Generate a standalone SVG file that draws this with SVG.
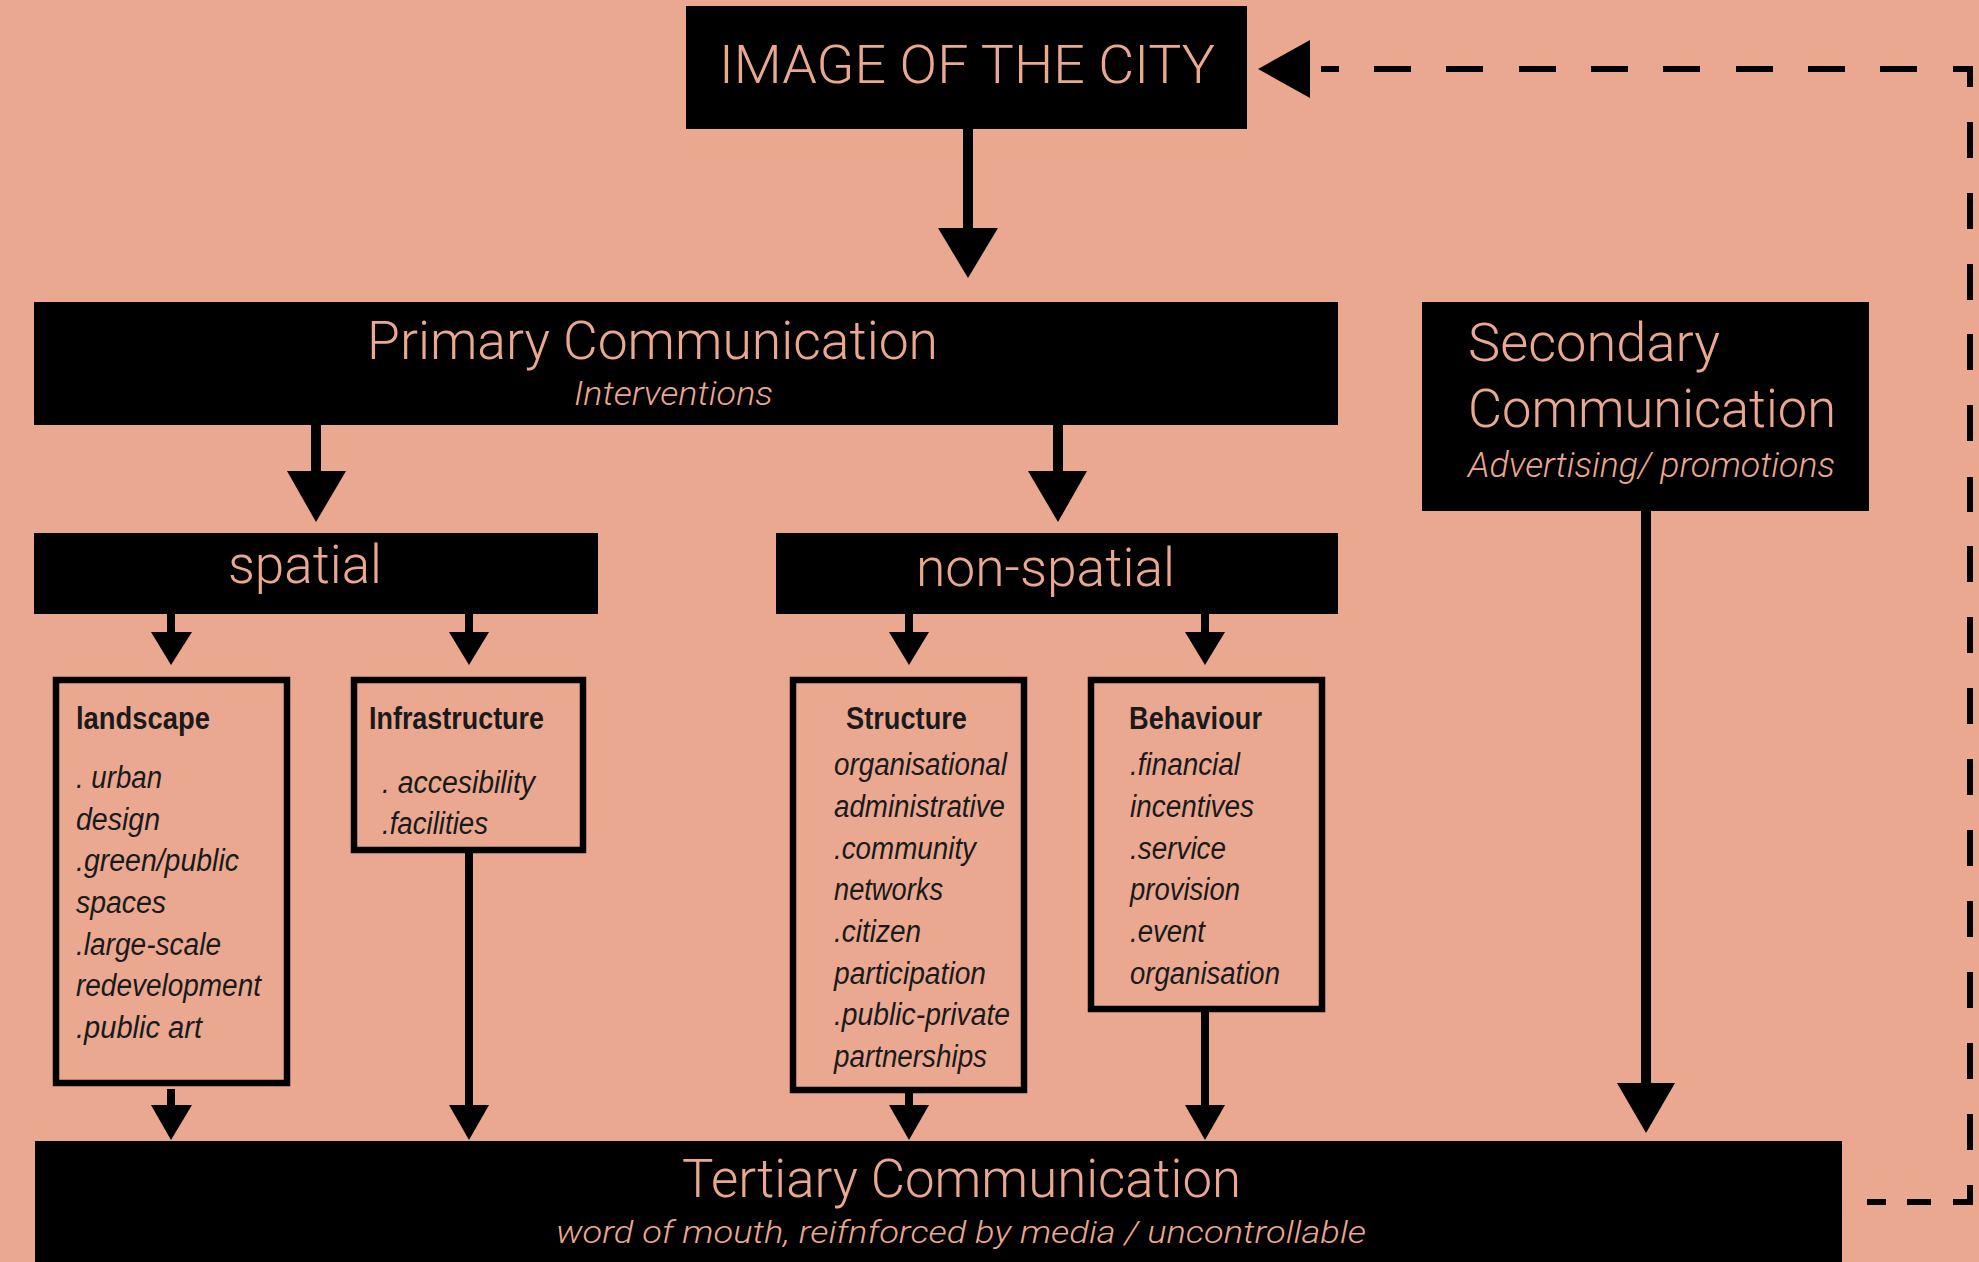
<svg xmlns="http://www.w3.org/2000/svg" width="1979" height="1262" viewBox="0 0 1979 1262">
  <style>
    .bg { fill: #EBA891; }
    .block { fill: #000; }
    .frame { fill: none; stroke: #000; stroke-width: 6.5; }
    .title { font-family: Roboto, "Liberation Sans", sans-serif; font-weight: 300; fill: #EBA891; font-size: 53px; }
    .sub { font-family: Roboto, "Liberation Sans", sans-serif; font-weight: 300; font-style: italic; fill: #EBA891; }
    .head { font-family: "Liberation Sans", Arial, sans-serif; font-weight: bold; fill: #1a1a1a; font-size: 31px; }
    .item { font-family: "Liberation Sans", Arial, sans-serif; font-style: italic; fill: #1a1a1a; font-size: 31px; }
    .wire { stroke: #000; fill: none; }
    .tip { fill: #000; }
    .dash { stroke: #000; stroke-width: 6; fill: none; stroke-linecap: butt; }
  </style>

  <rect class="bg" x="0" y="0" width="1979" height="1262"/>

  <!-- connectors -->
  <g id="connectors">
    <!-- image -> primary -->
    <line class="wire" x1="968" y1="129" x2="968" y2="230" stroke-width="10"/>
    <polygon class="tip" points="938,228 998,228 968,278"/>
    <!-- primary -> spatial / non-spatial -->
    <line class="wire" x1="316" y1="425" x2="316" y2="473" stroke-width="10"/>
    <polygon class="tip" points="287,471 346,471 316,522"/>
    <line class="wire" x1="1058" y1="425" x2="1058" y2="473" stroke-width="10"/>
    <polygon class="tip" points="1028,471 1087,471 1058,522"/>
    <!-- spatial -> landscape / infrastructure -->
    <line class="wire" x1="171" y1="614" x2="171" y2="634" stroke-width="8"/>
    <polygon class="tip" points="151,632 192,632 171,665"/>
    <line class="wire" x1="469" y1="614" x2="469" y2="634" stroke-width="8"/>
    <polygon class="tip" points="449,632 489,632 469,665"/>
    <!-- non-spatial -> structure / behaviour -->
    <line class="wire" x1="909" y1="614" x2="909" y2="634" stroke-width="8"/>
    <polygon class="tip" points="889,632 929,632 909,665"/>
    <line class="wire" x1="1205" y1="614" x2="1205" y2="634" stroke-width="8"/>
    <polygon class="tip" points="1185,632 1225,632 1205,665"/>
    <!-- four boxes -> tertiary -->
    <line class="wire" x1="171" y1="1089" x2="171" y2="1107" stroke-width="8"/>
    <polygon class="tip" points="151,1105 192,1105 171,1140"/>
    <line class="wire" x1="469" y1="853" x2="469" y2="1107" stroke-width="8"/>
    <polygon class="tip" points="449,1105 489,1105 469,1140"/>
    <line class="wire" x1="909" y1="1093" x2="909" y2="1107" stroke-width="8"/>
    <polygon class="tip" points="889,1105 929,1105 909,1140"/>
    <line class="wire" x1="1205" y1="1012" x2="1205" y2="1107" stroke-width="8"/>
    <polygon class="tip" points="1185,1105 1225,1105 1205,1140"/>
    <!-- secondary -> tertiary -->
    <line class="wire" x1="1646" y1="511" x2="1646" y2="1085" stroke-width="10"/>
    <polygon class="tip" points="1617,1083 1675,1083 1646,1133"/>
    <!-- feedback loop: tertiary back to the image -->
    <path class="dash" d="M1867,1202 H1886 M1907,1202 H1931 M1953,1202 H1973 M1970,1205 V1185
      M1970,1150 V1114 M1970,1079 V1043 M1970,1008 V972 M1970,937 V901 M1970,866 V830 M1970,795 V759
      M1970,724 V688 M1970,653 V617 M1970,582 V546 M1970,512 V477 M1970,441 V405 M1970,370 V334
      M1970,300 V264 M1970,229 V193 M1970,158 V122 M1970,87 V66 M1973,69 H1953
      M1917,69 H1880 M1845,69 H1808 M1773,69 H1736 M1700,69 H1663 M1628,69 H1591
      M1556,69 H1519 M1483,69 H1446 M1411,69 H1374 M1339,69 H1321"/>
    <polygon class="tip" points="1258,69 1310,40 1310,98"/>
  </g>

  <!-- nodes -->
  <g id="image-of-the-city">
    <rect class="block" x="686" y="6" width="561" height="123"/>
    <text class="title" x="719" y="83" textLength="496" lengthAdjust="spacingAndGlyphs">IMAGE OF THE CITY</text>
  </g>

  <g id="primary">
    <rect class="block" x="34" y="302" width="1304" height="123"/>
    <text class="title" x="367" y="359" textLength="571" lengthAdjust="spacingAndGlyphs">Primary Communication</text>
    <text class="sub" x="574" y="405" font-size="33" textLength="199" lengthAdjust="spacingAndGlyphs">Interventions</text>
  </g>

  <g id="secondary">
    <rect class="block" x="1422" y="302" width="447" height="209"/>
    <text class="title" x="1468" y="361" textLength="252" lengthAdjust="spacingAndGlyphs">Secondary</text>
    <text class="title" x="1468" y="427" textLength="368" lengthAdjust="spacingAndGlyphs">Communication</text>
    <text class="sub" x="1468" y="477" font-size="35" textLength="367" lengthAdjust="spacingAndGlyphs">Advertising/ promotions</text>
  </g>

  <g id="spatial">
    <rect class="block" x="34" y="533" width="564" height="81"/>
    <text class="title" x="228" y="583" textLength="154" lengthAdjust="spacingAndGlyphs">spatial</text>
  </g>

  <g id="non-spatial">
    <rect class="block" x="776" y="533" width="562" height="81"/>
    <text class="title" x="916" y="586" textLength="259" lengthAdjust="spacingAndGlyphs">non-spatial</text>
  </g>

  <g id="landscape">
    <rect class="frame" x="56" y="680" width="231" height="403"/>
    <text class="head" x="76" y="729" textLength="134" lengthAdjust="spacingAndGlyphs">landscape</text>
    <text class="item" x="76" y="788" textLength="86" lengthAdjust="spacingAndGlyphs">. urban</text>
    <text class="item" x="76" y="830" textLength="84" lengthAdjust="spacingAndGlyphs">design</text>
    <text class="item" x="76" y="871" textLength="163" lengthAdjust="spacingAndGlyphs">.green/public</text>
    <text class="item" x="76" y="913" textLength="90" lengthAdjust="spacingAndGlyphs">spaces</text>
    <text class="item" x="76" y="955" textLength="145" lengthAdjust="spacingAndGlyphs">.large-scale</text>
    <text class="item" x="76" y="996" textLength="185" lengthAdjust="spacingAndGlyphs">redevelopment</text>
    <text class="item" x="76" y="1038" textLength="126" lengthAdjust="spacingAndGlyphs">.public art</text>
  </g>

  <g id="infrastructure">
    <rect class="frame" x="354" y="680" width="229" height="170"/>
    <text class="head" x="369" y="729" textLength="175" lengthAdjust="spacingAndGlyphs">Infrastructure</text>
    <text class="item" x="382" y="793" textLength="153" lengthAdjust="spacingAndGlyphs">. accesibility</text>
    <text class="item" x="382" y="834" textLength="106" lengthAdjust="spacingAndGlyphs">.facilities</text>
  </g>

  <g id="structure">
    <rect class="frame" x="793" y="680" width="231" height="410"/>
    <text class="head" x="846" y="729" textLength="121" lengthAdjust="spacingAndGlyphs">Structure</text>
    <text class="item" x="834" y="775" textLength="173" lengthAdjust="spacingAndGlyphs">organisational</text>
    <text class="item" x="834" y="817" textLength="171" lengthAdjust="spacingAndGlyphs">administrative</text>
    <text class="item" x="834" y="859" textLength="142" lengthAdjust="spacingAndGlyphs">.community</text>
    <text class="item" x="834" y="900" textLength="109" lengthAdjust="spacingAndGlyphs">networks</text>
    <text class="item" x="834" y="942" textLength="87" lengthAdjust="spacingAndGlyphs">.citizen</text>
    <text class="item" x="834" y="984" textLength="152" lengthAdjust="spacingAndGlyphs">participation</text>
    <text class="item" x="834" y="1025" textLength="176" lengthAdjust="spacingAndGlyphs">.public-private</text>
    <text class="item" x="834" y="1067" textLength="153" lengthAdjust="spacingAndGlyphs">partnerships</text>
  </g>

  <g id="behaviour">
    <rect class="frame" x="1091" y="680" width="231" height="329"/>
    <text class="head" x="1129" y="729" textLength="133" lengthAdjust="spacingAndGlyphs">Behaviour</text>
    <text class="item" x="1130" y="775" textLength="110" lengthAdjust="spacingAndGlyphs">.financial</text>
    <text class="item" x="1130" y="817" textLength="124" lengthAdjust="spacingAndGlyphs">incentives</text>
    <text class="item" x="1130" y="859" textLength="96" lengthAdjust="spacingAndGlyphs">.service</text>
    <text class="item" x="1130" y="900" textLength="110" lengthAdjust="spacingAndGlyphs">provision</text>
    <text class="item" x="1130" y="942" textLength="75" lengthAdjust="spacingAndGlyphs">.event</text>
    <text class="item" x="1130" y="984" textLength="150" lengthAdjust="spacingAndGlyphs">organisation</text>
  </g>

  <g id="tertiary">
    <rect class="block" x="35" y="1141" width="1807" height="121"/>
    <text class="title" x="682" y="1197" textLength="559" lengthAdjust="spacingAndGlyphs">Tertiary Communication</text>
    <text class="sub" x="556" y="1243" font-size="31" textLength="810" lengthAdjust="spacingAndGlyphs">word of mouth, reifnforced by media / uncontrollable</text>
  </g>
</svg>
